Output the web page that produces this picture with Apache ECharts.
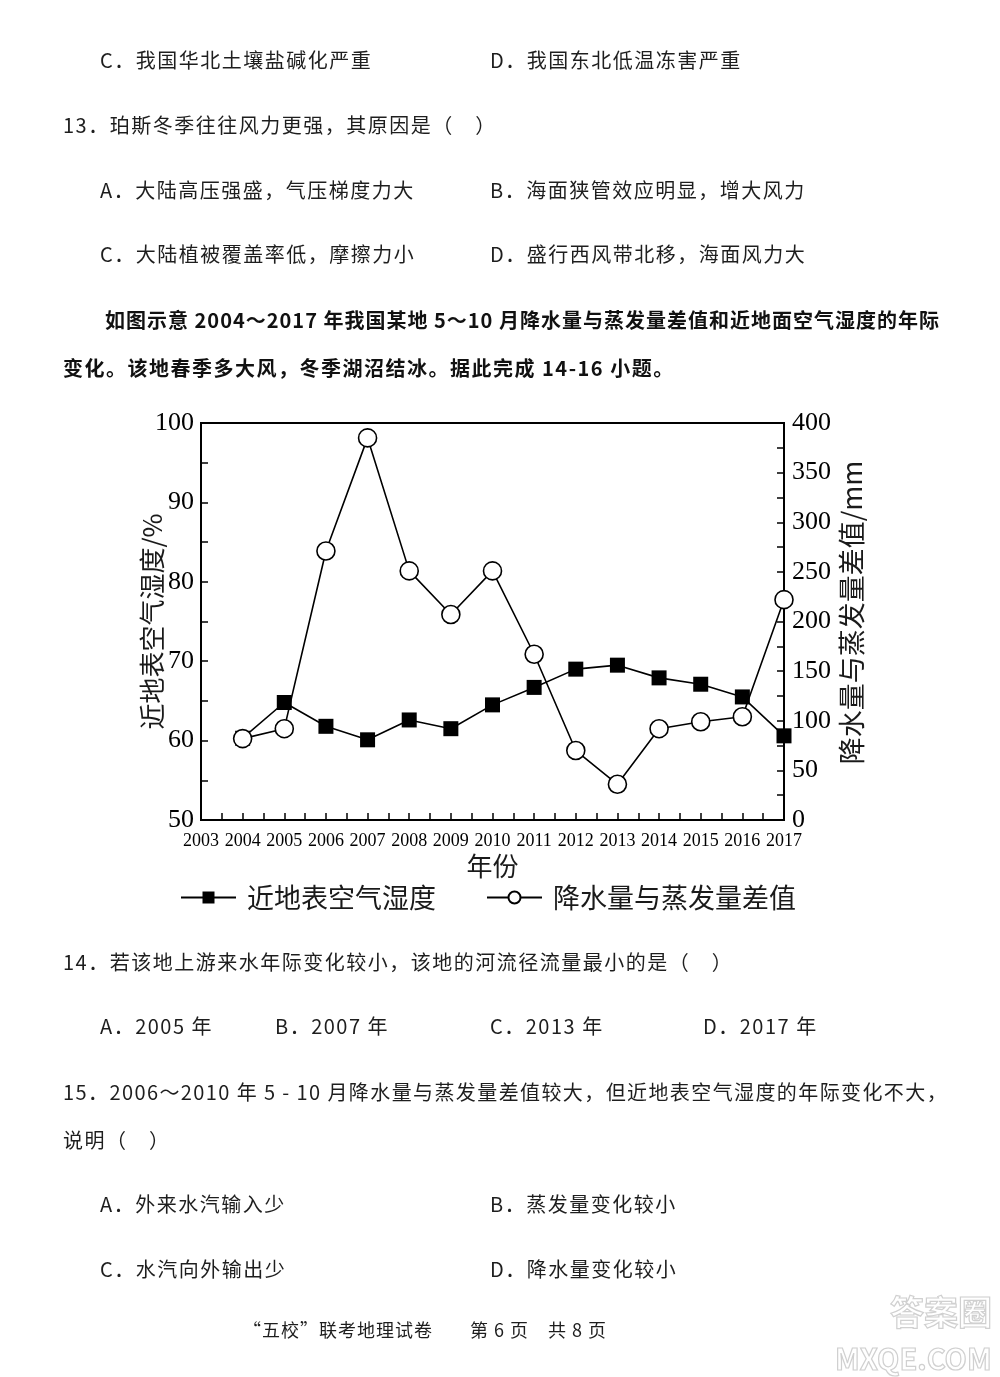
<!DOCTYPE html>
<html><head><meta charset="utf-8">
<script src="https://cdn.jsdelivr.net/npm/echarts@6/dist/echarts.min.js"></script>
<style>
html,body{margin:0;padding:0;background:#fff;}
#page{position:relative;width:1000px;height:1377px;overflow:hidden;background:#fff;}
#chart{position:absolute;left:0;top:0;width:1000px;height:1377px;}
.t{position:absolute;font-family:"Noto Sans CJK SC";font-size:20px;line-height:24px;color:#1e1e1e;white-space:pre;letter-spacing:1.5px;}
.b{font-weight:bold;color:#111;}
.f{font-size:18px;letter-spacing:1px;}
.wm{position:absolute;font-family:"Noto Sans CJK SC";color:#fff;-webkit-text-stroke:1.2px #d0d0d0;font-weight:bold;white-space:pre;}
</style></head>
<body><div id="page"><div id="chart"></div>
<div class="t" style="left:100px;top:48px">C．我国华北土壤盐碱化严重</div>
<div class="t" style="left:490px;top:48px">D．我国东北低温冻害严重</div>
<div class="t" style="left:63px;top:113px">13．珀斯冬季往往风力更强，其原因是（　）</div>
<div class="t" style="left:100px;top:178px">A．大陆高压强盛，气压梯度力大</div>
<div class="t" style="left:490px;top:178px">B．海面狭管效应明显，增大风力</div>
<div class="t" style="left:100px;top:242px">C．大陆植被覆盖率低，摩擦力小</div>
<div class="t" style="left:490px;top:242px">D．盛行西风带北移，海面风力大</div>
<div class="t b" style="left:105px;top:308px;letter-spacing:1px">如图示意 2004～2017 年我国某地 5～10 月降水量与蒸发量差值和近地面空气湿度的年际</div>
<div class="t b" style="left:63px;top:356px">变化。该地春季多大风，冬季湖沼结冰。据此完成 14-16 小题。</div>
<div class="t" style="left:63px;top:950px">14．若该地上游来水年际变化较小，该地的河流径流量最小的是（　）</div>
<div class="t" style="left:100px;top:1014px">A．2005 年</div>
<div class="t" style="left:275px;top:1014px">B．2007 年</div>
<div class="t" style="left:490px;top:1014px">C．2013 年</div>
<div class="t" style="left:703px;top:1014px">D．2017 年</div>
<div class="t" style="left:63px;top:1080px;letter-spacing:1.4px">15．2006～2010 年 5 - 10 月降水量与蒸发量差值较大，但近地表空气湿度的年际变化不大，</div>
<div class="t" style="left:63px;top:1128px">说明（　）</div>
<div class="t" style="left:100px;top:1192px">A．外来水汽输入少</div>
<div class="t" style="left:490px;top:1192px">B．蒸发量变化较小</div>
<div class="t" style="left:100px;top:1257px">C．水汽向外输出少</div>
<div class="t" style="left:490px;top:1257px">D．降水量变化较小</div>
<div class="t f" style="left:243px;top:1317px">“五校”联考地理试卷</div>
<div class="t f" style="left:470px;top:1317px">第 6 页　共 8 页</div>
<div class="wm" style="left:890px;top:1288px;font-size:34px;line-height:46px">答案圈</div>
<div class="wm" style="left:835px;top:1340px;font-size:29px;line-height:34px">MXQE.COM</div>
</div>
<script>
const years = [2004,2005,2006,2007,2008,2009,2010,2011,2012,2013,2014,2015,2016,2017];
const humidity = [60.3,64.8,61.8,60.1,62.6,61.5,64.5,66.7,69.0,69.5,67.9,67.1,65.5,60.6];
const diffValues = [82,92,271,385,251,207,251,167,70,36,92,99,104,222];
const xRange = [2003, 2017];
const humidityRange = [50, 100];
const diffRange = [0, 400];
const humidityName = '近地表空气湿度';
const diffName = '降水量与蒸发量差值';

const serif = 'Liberation Serif';
const cjk = 'Noto Sans CJK SC';
const black = '#000';
const tickStyle = {inside:true, length:7, lineStyle:{color:black, width:1.5}};
const minor = {show:true, splitNumber:2, length:7, lineStyle:{color:black, width:1.5}};

const chart = echarts.init(document.getElementById('chart'));
chart.setOption({
  animation:false,
  grid:{left:201, top:423, width:583, height:397, show:true, borderColor:black, borderWidth:2, backgroundColor:'transparent'},
  legend:{
    left:175, top:879, itemWidth:55, itemHeight:15, itemGap:50,
    textStyle:{fontSize:27, fontFamily:cjk, color:'#1a1a1a', padding:[0,0,0,6]},
    data:[humidityName, diffName]
  },
  xAxis:{
    type:'value', min:xRange[0], max:xRange[1], interval:1,
    name:'年份', nameLocation:'middle', nameGap:33, nameMoveOverlap:false,
    nameTextStyle:{fontSize:26, fontFamily:cjk, color:'#1a1a1a'},
    axisLine:{lineStyle:{color:black, width:2}},
    axisTick:tickStyle, minorTick:minor,
    axisLabel:{fontFamily:serif, fontSize:18, color:black, margin:12, formatter:v=>String(v)},
    splitLine:{show:false}
  },
  yAxis:[{
    type:'value', min:humidityRange[0], max:humidityRange[1], interval:10, position:'left',
    name:'近地表空气湿度/%', nameLocation:'middle', nameGap:36, nameRotate:90, nameMoveOverlap:false,
    nameTextStyle:{fontSize:26, fontFamily:cjk, color:'#1a1a1a'},
    axisLine:{show:true, lineStyle:{color:black, width:2}},
    axisTick:tickStyle, minorTick:minor,
    axisLabel:{fontFamily:serif, fontSize:26, color:black, margin:7},
    splitLine:{show:false}
  },{
    type:'value', min:diffRange[0], max:diffRange[1], interval:50, position:'right',
    name:'降水量与蒸发量差值/mm', nameLocation:'middle', nameGap:54, nameRotate:90, nameMoveOverlap:false,
    nameTextStyle:{fontSize:27, fontFamily:cjk, color:'#1a1a1a', padding:[0,0,0,18]},
    axisLine:{show:true, lineStyle:{color:black, width:2}},
    axisTick:tickStyle, minorTick:minor,
    axisLabel:{fontFamily:serif, fontSize:26, color:black, margin:8},
    splitLine:{show:false}
  }],
  series:[{
    name:humidityName, type:'line', yAxisIndex:0, z:2,
    data:years.map((y,i)=>[y, humidity[i]]),
    symbol:'rect', symbolSize:15,
    lineStyle:{color:black, width:1.6},
    itemStyle:{color:black}
  },{
    name:diffName, type:'line', yAxisIndex:1, z:3,
    data:years.map((y,i)=>[y, diffValues[i]]),
    symbol:'circle', symbolSize:18,
    lineStyle:{color:black, width:1.6},
    itemStyle:{color:'#fff', borderColor:black, borderWidth:1.6}
  }]
});
</script>
</body></html>
